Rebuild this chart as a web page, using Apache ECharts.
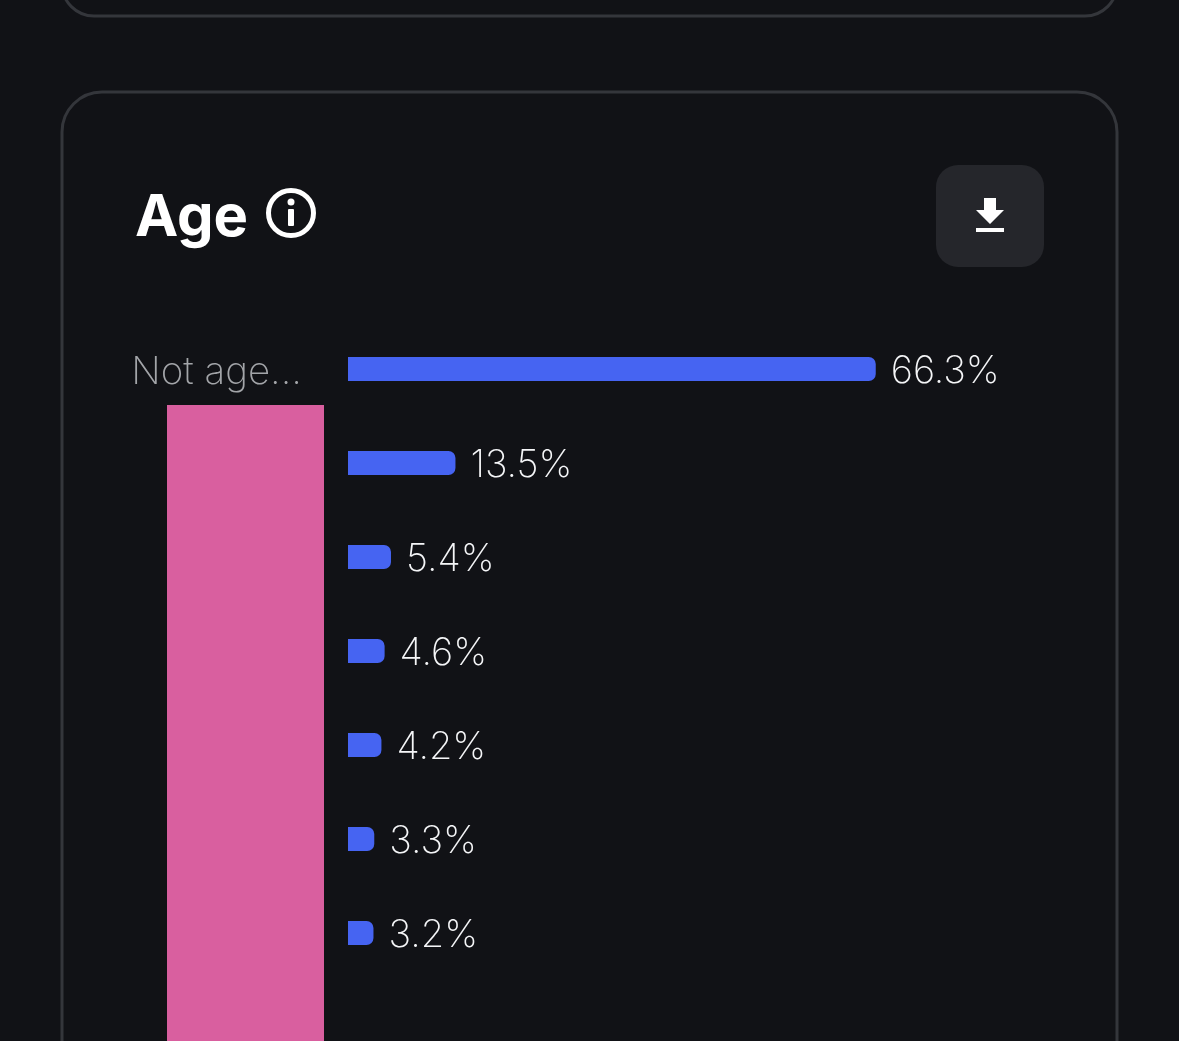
<!DOCTYPE html>
<html><head><meta charset="utf-8">
<style>html,body{margin:0;padding:0;background:#111216;width:1179px;height:1041px;overflow:hidden}#c{width:1179px;height:1041px}</style>
<script src="https://cdn.jsdelivr.net/npm/echarts@6/dist/echarts.min.js"></script>
</head><body><div id="c"></div>
<script>
const categories = ['Not age...', '', '', '', '', '', ''];
const values = [66.3, 13.5, 5.4, 4.6, 4.2, 3.3, 3.2];
const titleText = 'Age';
const FONT = 'Inter, "Noto Sans", sans-serif';
const chart = echarts.init(document.getElementById('c'));
chart.setOption({
  backgroundColor: '#111216',
  animation: false,
  graphic: [
    {type:'rect',shape:{x:62,y:-120,width:1055,height:136,r:32},style:{fill:'transparent',stroke:'#34363b',lineWidth:3}},
    {type:'rect',shape:{x:62,y:92,width:1055,height:1100,r:40},style:{fill:'transparent',stroke:'#34363b',lineWidth:3}},
    {type:'text',x:135,y:190,style:{text:titleText,fill:'#fff',font:'700 58px '+FONT}},
    {type:'circle',shape:{cx:291,cy:213,r:22.5},style:{fill:'transparent',stroke:'#fff',lineWidth:5}},
    {type:'circle',shape:{cx:291,cy:202,r:3.5},style:{fill:'#fff'}},
    {type:'rect',shape:{x:288,y:209,width:6,height:17,r:1},style:{fill:'#fff'}},
    {type:'rect',shape:{x:936,y:165,width:108,height:102,r:22},style:{fill:'#25262b'}},
    {type:'polygon',shape:{points:[[984,198],[996,198],[996,210],[1004,210],[990,224],[976,210],[984,210]]},style:{fill:'#fff'}},
    {type:'rect',shape:{x:976,y:228,width:28,height:4},style:{fill:'#fff'}},
    {type:'rect',z:10,shape:{x:167,y:405,width:157,height:640},style:{fill:'#d95f9f'}}
  ],
  grid: {left:348, width:796, top:322, height:658, containLabel:false},
  xAxis: {type:'value', min:0, max:100, show:false},
  yAxis: {type:'category', inverse:true, data:categories,
    axisLine:{show:false}, axisTick:{show:false},
    axisLabel:{margin:46, formatter:v=>v?'{a|'+v+'}':'',
      rich:{a:{color:'#a3a5a9', fontSize:38.5, fontWeight:200, fontFamily:FONT, padding:[6,0,0,0]}}}},
  series: [{type:'bar', data:values, barWidth:24,
    itemStyle:{color:'#4664f2', borderRadius:[0,7,7,0]},
    label:{show:true, position:'right', distance:15, offset:[0,3], color:'#f5f6f8', fontSize:38, fontWeight:200, fontFamily:FONT, formatter:p=>p.value+'%'}}]
});
</script></body></html>
